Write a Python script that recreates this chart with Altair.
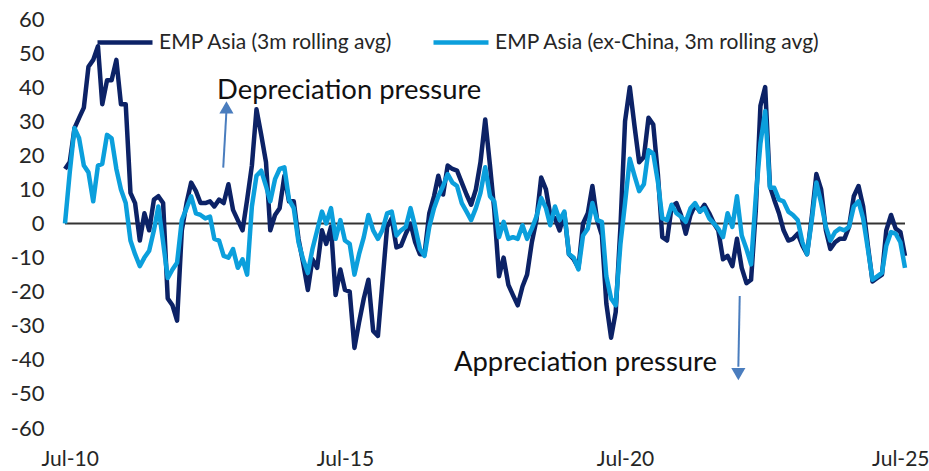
import altair as alt
import pandas as pd

# Monthly EMP index readings, Jul-2010 .. Jul-2025
START = "2010-07-01"
SERIES = ["EMP Asia (3m rolling avg)", "EMP Asia (ex-China, 3m rolling avg)"]
COLORS = ["#0c2266", "#0b9fdc"]

emp_asia = [
    16, 18, 28, 31, 34, 46, 48, 52, 35, 42, 42, 48, 35, 35, 9, 6, -5, 3, -2, 7,
    8, 6, -22, -24, -28.5, -2, 6, 12, 9.5, 6, 6, 6.5, 5, 7, 6, 11.5, 4, 1, -2, 7,
    17, 33.5, 26, 18, -2, 2.5, 4.5, 14, 6.5, 6.5, -4.5, -11.5, -19.5, -10.5, -13, -2, -6, -1, -21, -13.5,
    -19.5, -20, -36.5, -29, -22, -16.5, -31.5, -33, -17.5, -1, 1.5, -7, -6.5, -3, 0, -5.5, -9, -9, 3, 8,
    14, 8.5, 17, 16, 15.5, 12, 8.5, 5.5, 10, 18, 30.5, 17, 4, -15.5, -10, -18, -21, -24, -18.5, -15,
    -5.5, 1, 13.5, 10, 2.5, 1.5, -2, 3, -9, -10.5, -13, 0, 3, 11, 1, -3.5, -23.5, -33.5, -26, -1,
    30, 40, 28.5, 18, 19.5, 31, 29, 14, -4, -5, 5, 6, 2.5, -3, 2.5, 5.5, 3.5, 5.5, 3, 0,
    -2, -10.5, -9.5, -12.5, -4.5, -13, -17.5, -16.5, 4, 34.5, 40, 11, 7, 3, -2, -5, -4.5, -3, -6.5, -9,
    2, 14.5, 10, -2, -7.5, -5.5, -4.5, -4.5, -1, 8, 11, 5, -6.5, -17, -16, -15, -2, 2.5, -1.5, -2.5,
    -9.5,
]

emp_asia_ex_china = [
    0, 15, 28, 25, 17, 15, 6.5, 17, 17.5, 26, 25, 16, 10, 6, -5, -9, -12.5, -10, -8, -2,
    5, -5.5, -16, -13.5, -11.5, 1, 4.5, 8, 3, 2.5, 1.5, 2, -4.5, -5, -9.5, -10, -7.5, -13, -10.5, -15,
    5, 14, 15.5, 11, 6.5, 13, 16, 16.5, 7, 4.5, -5.5, -10.5, -14.5, -7.5, -2, 3.5, 0, 4.5, -4.5, 1,
    -5, -6, -15, -9, -4, 2.5, -2, -4.5, -2, 3, 3.5, -3.5, -2, -1, 4.5, -1, -7.5, -9.5, -1, 4.5,
    8, 11, 14.5, 12, 11, 6, 3.5, 1, 4.5, 9, 16.5, 8, 6.5, -4, 0.5, -4.5, -4, -4.5, -0.5, -4.5,
    -1.5, 2, 7.5, 4.5, -0.5, 5, 1, 3.5, -9, -10, -13.5, -3.5, -1.5, 6, 1, 0.5, -15.5, -22, -24, -6,
    6, 19, 14, 9.5, 11.5, 21.5, 20.5, 12, 1.5, 1, 5.5, 3, 2, 0.5, 4.5, 6, 3.5, 4.5, 1.5, 0,
    -1.5, -4, 3, -1, 8, -3.5, -7.5, -12, 8, 23.5, 33, 10.5, 10.5, 7, 6.5, 3.5, 2.5, 1, -5.5, -9,
    1, 12, 6, -1, -5, -2.5, -1.5, -2, -1, 5, 6.5, 1.5, -7.5, -16.5, -15.5, -14.5, -6.5, -2.5, -3, -5.5,
    -13,
]

TICK_YEARS = [2010, 2015, 2020, 2025]
Y_TICKS = list(range(-60, 61, 10))

# Text annotations and their arrows (anchored in date / index space)
note_text = ["Depreciation pressure", "Appreciation pressure"]
note_date = ["2013-03-19", "2017-06-11"]
note_value = [36.4, -43.3]

arrow_date_from = ["2013-04-28", "2022-07-19"]
arrow_value_from = [16.4, -21.3]
arrow_date_to = ["2013-05-19", "2022-07-10"]
arrow_value_to = [33.0, -42.0]
head_value = [34.1, -44.2]
head_shape = ["triangle-up", "triangle-down"]

FONT = "Lato"
ARROW_COLOR = "#4a7dbe"
TEXT_COLOR = "#262626"

dates = pd.date_range(START, periods=len(emp_asia), freq="MS").strftime("%Y-%m-%d").tolist()
lines_df = pd.concat(
    [
        pd.DataFrame({"date": dates, "value": emp_asia, "series": SERIES[0]}),
        pd.DataFrame({"date": dates, "value": emp_asia_ex_china, "series": SERIES[1]}),
    ],
    ignore_index=True,
)
notes_df = pd.DataFrame({"date": note_date, "value": note_value, "text": note_text})
arrows_df = pd.DataFrame(
    {
        "d0": arrow_date_from,
        "v0": arrow_value_from,
        "d1": arrow_date_to,
        "v1": arrow_value_to,
        "hv": head_value,
        "shape": head_shape,
    }
)

x_scale = alt.Scale(
    type="utc",
    domain=[
        alt.DateTime(year=2010, month=7, date=1, utc=True),
        alt.DateTime(year=2025, month=7, date=1, utc=True),
    ],
)
y_scale = alt.Scale(domain=[-60, 60], nice=False, zero=False)

x_axis = alt.Axis(
    values=[alt.DateTime(year=y, month=7, date=1, utc=True) for y in TICK_YEARS],
    labelExpr="utcFormat(datum.value, '%b-%y')",
    title=None,
    domain=False,
    ticks=False,
    tickSize=0,
    grid=False,
    labelFlush=True,
    labelFlushOffset=24,
    labelPadding=20,
    labelFont=FONT,
    labelFontSize=21,
    labelColor=TEXT_COLOR,
)
y_axis = alt.Axis(
    values=Y_TICKS,
    tickCount=len(Y_TICKS),
    labelExpr="toString(datum.value)",
    labelOverlap=False,
    title=None,
    domain=False,
    ticks=False,
    tickSize=0,
    grid=False,
    labelPadding=21,
    labelFont=FONT,
    labelFontSize=22,
    labelColor=TEXT_COLOR,
)

zero_line = (
    alt.Chart(pd.DataFrame({"y": [0]}))
    .mark_rule(color="#333333", strokeWidth=2)
    .encode(y=alt.Y("y:Q", scale=y_scale, axis=y_axis))
)

lines = (
    alt.Chart(lines_df)
    .mark_line(strokeWidth=4.5, strokeJoin="round")
    .encode(
        x=alt.X("date:T", scale=x_scale, axis=x_axis),
        y=alt.Y("value:Q", scale=y_scale, axis=y_axis),
        color=alt.Color(
            "series:N",
            scale=alt.Scale(domain=SERIES, range=COLORS),
            sort=SERIES,
            legend=alt.Legend(
                title=None,
                orient="none",
                legendX=30,
                legendY=-6.5,
                direction="horizontal",
                symbolType="stroke",
                symbolSize=3025,
                symbolStrokeWidth=4.5,
                labelOffset=4,
                columnPadding=31,
                labelFont=FONT,
                labelFontSize=21,
                labelColor=TEXT_COLOR,
                labelLimit=500,
                padding=0,
            ),
        ),
    )
)

shafts = (
    alt.Chart(arrows_df)
    .mark_rule(color=ARROW_COLOR, strokeWidth=2)
    .encode(
        x=alt.X("d0:T", scale=x_scale, axis=x_axis),
        x2="d1:T",
        y=alt.Y("v0:Q", scale=y_scale, axis=y_axis),
        y2="v1:Q",
    )
)
heads = (
    alt.Chart(arrows_df)
    .mark_point(filled=True, size=200, opacity=1, color=ARROW_COLOR, strokeWidth=0)
    .encode(
        x=alt.X("d1:T", scale=x_scale, axis=x_axis),
        y=alt.Y("hv:Q", scale=y_scale, axis=y_axis),
        shape=alt.Shape("shape:N", scale=None),
    )
)
notes = (
    alt.Chart(notes_df)
    .mark_text(align="left", baseline="alphabetic", font=FONT, fontSize=27.4, color="#111111")
    .encode(
        x=alt.X("date:T", scale=x_scale, axis=x_axis),
        y=alt.Y("value:Q", scale=y_scale, axis=y_axis),
        text="text:N",
    )
)

chart = (
    alt.layer(zero_line, lines, shafts, heads, notes)
    .properties(
        width=840,
        height=409,
        padding={"left": 65, "top": 19, "right": 24, "bottom": 43},
        autosize=alt.AutoSizeParams(type="none"),
        background="white",
    )
    .configure_view(stroke=None)
    .configure_axis(labelOverlap=False)
)

chart.save("out.html", embed_options={"renderer": "svg", "actions": False})
